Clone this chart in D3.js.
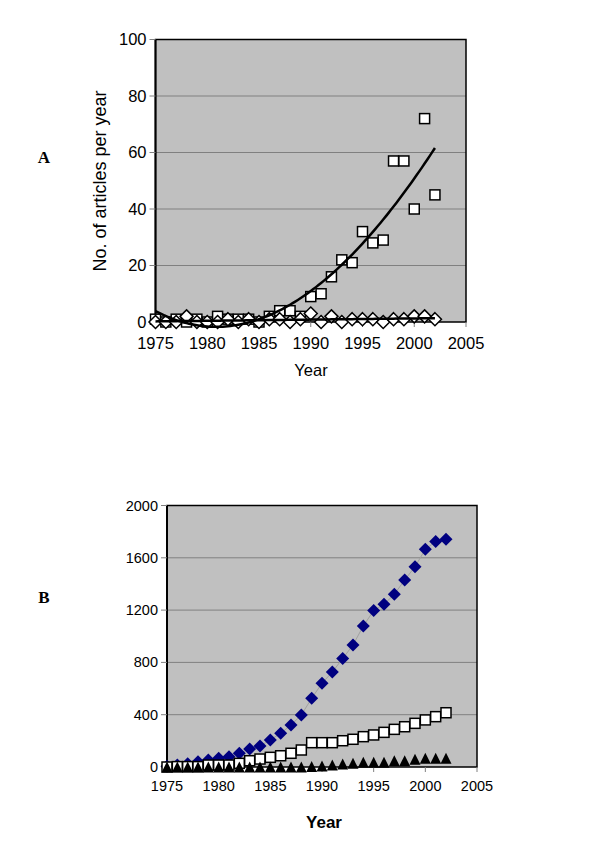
<!DOCTYPE html>
<html>
<head>
<meta charset="utf-8">
<script src="https://cdn.jsdelivr.net/npm/d3@7"></script>
<style>
  body { margin: 0; background: #fff; }
  text { font-family: Arial, "Liberation Sans", sans-serif; fill: #000; }
</style>
</head>
<body>
<div id="chart"></div>
<script>
// data
var years = [1975, 1976, 1977, 1978, 1979, 1980, 1981, 1982, 1983, 1984,
  1985, 1986, 1987, 1988, 1989, 1990, 1991, 1992, 1993, 1994,
  1995, 1996, 1997, 1998, 1999, 2000, 2001, 2002];

// panel A
var squaresA = [1, 0, 1, 0, 1, 0, 2, 1, 1, 1, 0, 2, 4, 4, 2, 9, 10, 16, 22, 21, 32, 28, 29, 57, 57, 40, 72, 45];
var diamondsA = [0, 0, 0, 2, 0, 0, 0, 1, 0, 1, 0, 1, 1, 0, 1, 3, 0, 2, 0, 1, 1, 1, 0, 1, 1, 2, 2, 1];
var yTicksA = [0, 20, 40, 60, 80, 100];

// panel B
var diamondsB = [5, 15, 25, 41, 54, 66, 79, 105, 138, 161, 207, 258, 321, 398, 525, 640, 727, 829, 933, 1079,
  1196, 1245, 1321, 1430, 1532, 1665, 1724, 1742];
var squaresB = [0, 3, 3, 3, 15, 15, 15, 28, 48, 61, 74, 86, 105, 130, 186, 186, 186, 201, 212, 232,
  245, 265, 288, 308, 334, 360, 385, 415];
var trianglesB = [0, 0, 0, 0, 0, 0, 0, 0, 0, 0, 0, 0, 0, 0, 3, 8, 15, 23, 28, 36,
  36, 36, 48, 48, 59, 66, 66, 66];
var yTicksB = [0, 400, 800, 1200, 1600, 2000];

var xTicks = [1975, 1980, 1985, 1990, 1995, 2000, 2005];

var svg = d3.select("#chart")
  .append("svg")
  .attr("width", 600)
  .attr("height", 866);

// least squares polynomial (like an Excel trendline)
function polyFit(xs, ys, order) {
  var n = order + 1;
  var m = [];
  for (var i = 0; i < n; i++) {
    m.push([]);
    for (var j = 0; j <= n; j++) m[i].push(0);
  }
  xs.forEach(function(x, k) {
    for (var i = 0; i < n; i++) {
      for (var j = 0; j < n; j++) m[i][j] += Math.pow(x, i + j);
      m[i][n] += ys[k] * Math.pow(x, i);
    }
  });
  // gauss elimination
  for (var c = 0; c < n; c++) {
    for (var r = c + 1; r < n; r++) {
      var f = m[r][c] / m[c][c];
      for (var j = c; j <= n; j++) m[r][j] -= f * m[c][j];
    }
  }
  var coef = new Array(n).fill(0);
  for (var r = n - 1; r >= 0; r--) {
    var s = m[r][n];
    for (var j = r + 1; j < n; j++) s -= m[r][j] * coef[j];
    coef[r] = s / m[r][r];
  }
  return function(x) {
    return coef.reduce(function(acc, c, i) { return acc + c * Math.pow(x, i); }, 0);
  };
}

// draws the grey plot area, grid, axes and tick labels
function drawFrame(x, y, yTicks, tickSize, labelGap) {
  var x0 = x.range()[0], x1 = x.range()[1];
  var y0 = y.range()[0], y1 = y.range()[1];

  svg.append("rect")
    .attr("x", x0).attr("y", y1)
    .attr("width", x1 - x0).attr("height", y0 - y1)
    .attr("fill", "#c0c0c0");

  svg.append("g").selectAll("line")
    .data(yTicks.slice(1, -1))
    .enter().append("line")
    .attr("x1", x0).attr("x2", x1)
    .attr("y1", d => y(d)).attr("y2", d => y(d))
    .attr("stroke", "#808080").attr("stroke-width", 1);

  // border
  svg.append("rect")
    .attr("x", x0).attr("y", y1)
    .attr("width", x1 - x0).attr("height", y0 - y1)
    .attr("fill", "none")
    .attr("stroke", "#000").attr("stroke-width", 1.5);

  svg.append("line")
    .attr("x1", x0).attr("x2", x0).attr("y1", y1).attr("y2", y0)
    .attr("stroke", "#000").attr("stroke-width", 2);

  // y ticks
  var yg = svg.append("g");
  yg.selectAll("line").data(yTicks).enter().append("line")
    .attr("x1", x0 - 6).attr("x2", x0)
    .attr("y1", d => y(d)).attr("y2", d => y(d))
    .attr("stroke", "#808080");
  yg.selectAll("text").data(yTicks).enter().append("text")
    .attr("x", x0 - 9)
    .attr("y", d => y(d))
    .attr("dy", "0.35em")
    .attr("text-anchor", "end")
    .style("font-size", tickSize + "px")
    .text(d => d);

  // x ticks
  var xg = svg.append("g");
  xg.selectAll("line").data(xTicks).enter().append("line")
    .attr("x1", d => x(d)).attr("x2", d => x(d))
    .attr("y1", y0).attr("y2", y0 + 5)
    .attr("stroke", "#808080");
  xg.selectAll("text").data(xTicks).enter().append("text")
    .attr("x", d => x(d))
    .attr("y", y0 + labelGap)
    .attr("dy", "0.35em")
    .attr("text-anchor", "middle")
    .style("font-size", tickSize + "px")
    .text(d => d);
}

function squares(data, x, y, size) {
  svg.append("g").selectAll("rect")
    .data(data).enter().append("rect")
    .attr("x", (d, i) => x(years[i]) - size / 2)
    .attr("y", d => y(d) - size / 2)
    .attr("width", size).attr("height", size)
    .attr("fill", "#fff")
    .attr("stroke", "#000").attr("stroke-width", 1.5);
}

function diamonds(data, x, y, r, fill, stroke) {
  svg.append("g").selectAll("path")
    .data(data).enter().append("path")
    .attr("d", (d, i) => {
      var cx = x(years[i]), cy = y(d);
      return `M${cx},${cy - r}L${cx + r},${cy}L${cx},${cy + r}L${cx - r},${cy}Z`;
    })
    .attr("fill", fill)
    .attr("stroke", stroke)
    .attr("stroke-width", stroke === "none" ? 0 : 1.5);
}

function triangles(data, x, y, w, h) {
  svg.append("g").selectAll("path")
    .data(data).enter().append("path")
    .attr("d", (d, i) => {
      var cx = x(years[i]), cy = y(d);
      return `M${cx},${cy - h / 2}L${cx + w / 2},${cy + h / 2}L${cx - w / 2},${cy + h / 2}Z`;
    })
    .attr("fill", "#000");
}

function trend(fit, x, y) {
  var pts = d3.range(1975, 2002.01, 0.25);
  svg.append("path")
    .datum(pts)
    .attr("d", d3.line().x(d => x(d)).y(d => y(fit(d - 1975))))
    .attr("fill", "none")
    .attr("stroke", "#000")
    .attr("stroke-width", 2.5);
}

// ---------- panel A ----------
var xA = d3.scaleLinear().domain([1975, 2005]).range([155.5, 466]);
var yA = d3.scaleLinear().domain([0, 100]).range([322, 39.5]);

drawFrame(xA, yA, yTicksA, 16.5, 21);

squares(squaresA, xA, yA, 10);
diamonds(diamondsA, xA, yA, 6.5, "#fff", "#000");

var tA = years.map(d => d - 1975);
trend(polyFit(tA, squaresA, 3), xA, yA);
trend(polyFit(tA, diamondsA, 1), xA, yA);

svg.append("text")
  .attr("transform", "translate(106,181) rotate(-90)")
  .attr("text-anchor", "middle")
  .style("font-size", "18px")
  .text("No. of articles per year");

svg.append("text")
  .attr("x", 311).attr("y", 376)
  .attr("text-anchor", "middle")
  .style("font-size", "16.5px")
  .text("Year");

svg.append("text")
  .attr("x", 44).attr("y", 163)
  .attr("text-anchor", "middle")
  .style("font-family", "'Times New Roman', 'Liberation Serif', serif")
  .style("font-weight", "bold")
  .style("font-size", "17px")
  .text("A");

// ---------- panel B ----------
var xB = d3.scaleLinear().domain([1975, 2005]).range([167, 477]);
var yB = d3.scaleLinear().domain([0, 2000]).range([767, 505.5]);

drawFrame(xB, yB, yTicksB, 14.5, 19);

svg.append("path")
  .datum(diamondsB)
  .attr("d", d3.line().x((d, i) => xB(years[i])).y(d => yB(d)))
  .attr("fill", "none")
  .attr("stroke", "#a0a0a0")
  .attr("stroke-width", 1);

diamonds(diamondsB, xB, yB, 6.5, "#000080", "none");
squares(squaresB, xB, yB, 10);
triangles(trianglesB, xB, yB, 11, 11);

svg.append("text")
  .attr("x", 324).attr("y", 828)
  .attr("text-anchor", "middle")
  .style("font-weight", "bold")
  .style("font-size", "17px")
  .text("Year");

svg.append("text")
  .attr("x", 44).attr("y", 603)
  .attr("text-anchor", "middle")
  .style("font-family", "'Times New Roman', 'Liberation Serif', serif")
  .style("font-weight", "bold")
  .style("font-size", "17px")
  .text("B");
</script>
</body>
</html>
